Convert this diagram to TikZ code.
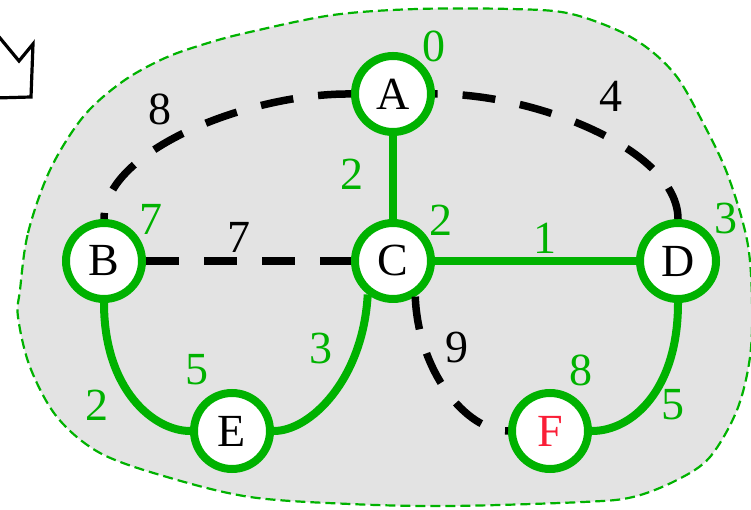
\documentclass[tikz,border=0pt]{standalone}
\usepackage{fontspec}
\setmainfont{Liberation Serif}
\definecolor{gr}{RGB}{0,178,0}
\definecolor{bg}{RGB}{227,227,227}
\definecolor{rd}{RGB}{250,30,55}
\begin{document}
\begin{tikzpicture}[x=1pt,y=1pt,
  vtx/.style={circle,draw=gr,line width=8pt,fill=white,minimum size=76pt,inner sep=0pt,
    font=\fontsize{46}{50}\selectfont},
  tree/.style={draw=gr,line width=8pt},
  cand/.style={draw=black,line width=7.5pt,dash pattern=on 33pt off 25pt},
  glab/.style={text=gr,inner sep=0pt,font=\fontsize{46}{50}\selectfont},
  blab/.style={text=black,inner sep=0pt,font=\fontsize{46}{50}\selectfont}]
\clip (0,0) rectangle (751,510);
% region
\draw[gr,line width=2.2pt,dash pattern=on 10pt off 5pt,fill=bg]
  plot[smooth cycle,tension=0.55] coordinates {(20,220) (28,277) (50,340) (83,393) (122,428) (165,452) (208,467) (250,478) (333,495) (417,501) (510,501) (567,497) (617,480) (650,460) (677,433) (700,393) (727,337) (747,270) (752,210) (750,153) (737,100) (710,53) (677,30) (633,13) (583,8) (450,4) (350,6) (250,13) (167,33) (100,57) (57,93) (30,143) (18,193)};
% arrow at top left
\draw[line width=3.2pt,line join=miter] (-5,478) -- (19,449) -- (33,466) -- (31,413) -- (-5,412);
% vertices
\node[vtx] (A) at (393,416) {A};
\node[vtx] (B) at (104,249) {B};
\node[vtx] (C) at (393,249) {C};
\node[vtx] (D) at (678,249) {D};
\node[vtx] (E) at (232,79) {E};
\node[vtx,text=rd] (F) at (550,79) {F};
% candidate edges
\draw[cand] (A.west) .. controls (250,417) and (104,360) .. (B.north);
\draw[cand] (D.north) .. controls (678,360) and (535,417) .. (A.east);
\draw[cand] (B.east) -- (C.west);
\draw[cand] (C.-58) .. controls (418,140) and (465,79) .. (F.west);
% tree edges
\draw[tree] (A.south) -- (C.north);
\draw[tree] (C.east) -- (D.west);
\draw[tree] (B.south) .. controls (104,120) and (154,79) .. (E.west);
\draw[tree] (C.-127) .. controls (363,130) and (310,79) .. (E.east);
\draw[tree] (D.south) .. controls (678,120) and (632,79) .. (F.east);
% distance labels
\node[glab] (lA) at (434,464) {0};
\node[glab] (lB) at (151,291) {7};
\node[glab] (lC) at (441,290) {2};
\node[glab] (lD) at (726,291) {3};
\node[glab] (lE) at (197,140) {5};
\node[glab] (lF) at (581,140) {8};
% edge weights
\node[blab] (wAB) at (160,401) {8};
\node[blab] (wAD) at (611,414) {4};
\node[glab] (wAC) at (352,336) {2};
\node[blab] (wBC) at (239,273) {7};
\node[glab] (wCD) at (545,272) {1};
\node[glab] (wBE) at (97,105) {2};
\node[glab] (wCE) at (321,161) {3};
\node[blab] (wCF) at (457,162) {9};
\node[glab] (wDF) at (673,105) {5};
\end{tikzpicture}
\end{document}
